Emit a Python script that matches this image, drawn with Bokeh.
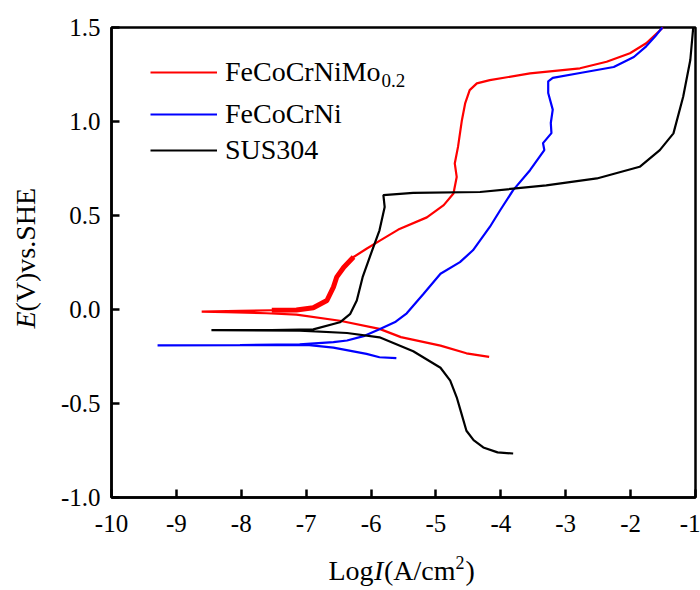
import math
from bokeh.plotting import figure
from bokeh.models import Legend, LegendItem, Label, FixedTicker, Range1d, BoxAnnotation
from bokeh.embed import file_html
from bokeh.resources import INLINE

# ---- data (log I in A/cm^2, E in V vs SHE) ----
red_cath_logi = [-4.18, -4.53, -4.93, -5.54, -5.87, -6.48, -7.15, -7.61, -8.22, -8.61]
red_cath_e    = [-0.252, -0.233, -0.192, -0.147, -0.103, -0.060, -0.027, -0.020, -0.014, -0.011]
red_anod_logi = [-8.61, -8.02, -7.53, -7.15, -6.89, -6.68, -6.58, -6.53, -6.42, -6.27, -6.07, -5.87,
                 -5.58, -5.14, -4.88, -4.73, -4.68, -4.71, -4.66, -4.60, -4.55, -4.48, -4.37, -4.17,
                 -3.55, -2.78, -2.37, -2.01, -1.76, -1.50]
red_anod_e    = [-0.011, -0.007, -0.004, -0.003, 0.009, 0.048, 0.119, 0.172, 0.225, 0.279, 0.323, 0.365,
                 0.425, 0.490, 0.555, 0.617, 0.705, 0.777, 0.865, 1.007, 1.096, 1.167, 1.203, 1.220,
                 1.256, 1.283, 1.318, 1.363, 1.416, 1.500]

blue_cath_logi = [-5.61, -5.87, -6.07, -6.58, -6.99, -8.02, -9.29]
blue_cath_e    = [-0.259, -0.254, -0.236, -0.203, -0.188, -0.190, -0.191]
blue_anod_logi = [-9.29, -8.02, -7.10, -6.58, -6.37, -6.10, -5.87, -5.62, -5.45, -5.19, -4.93, -4.63,
                  -4.43, -4.17, -4.01, -3.81, -3.55, -3.33, -3.35, -3.22, -3.23, -3.20, -3.27, -3.27,
                  -3.20, -2.78, -2.26, -1.95, -1.76, -1.60, -1.51]
blue_anod_e    = [-0.191, -0.189, -0.186, -0.174, -0.165, -0.140, -0.105, -0.065, -0.020, 0.084, 0.190,
                  0.252, 0.315, 0.439, 0.528, 0.635, 0.741, 0.848, 0.885, 0.938, 0.992, 1.063, 1.152,
                  1.214, 1.232, 1.258, 1.290, 1.343, 1.400, 1.462, 1.500]

black_cath_logi = [-3.81, -4.05, -4.27, -4.42, -4.53, -4.62, -4.68, -4.78, -4.93, -5.35, -5.87, -6.37,
                   -7.10, -8.46]
black_cath_e    = [-0.766, -0.760, -0.734, -0.695, -0.645, -0.538, -0.467, -0.378, -0.310, -0.222,
                   -0.148, -0.125, -0.112, -0.110]
black_anod_logi = [-8.46, -7.53, -6.89, -6.48, -6.32, -6.22, -6.13, -6.02, -5.87, -5.79, -5.81, -5.35,
                   -4.32, -3.30, -2.52, -1.86, -1.55, -1.34, -1.19, -1.08, -1.035]
black_anod_e    = [-0.110, -0.109, -0.106, -0.068, -0.023, 0.048, 0.172, 0.279, 0.421, 0.545, 0.608, 0.620,
                   0.625, 0.660, 0.697, 0.759, 0.848, 0.937, 1.132, 1.327, 1.500]

x_ticks = [-10, -9, -8, -7, -6, -5, -4, -3, -2, -1]
x_tick_labels = ["-10", "-9", "-8", "-7", "-6", "-5", "-4", "-3", "-2", "-1"]
y_ticks = [-1.0, -0.5, 0.0, 0.5, 1.0, 1.5]
y_tick_labels = ["-1.0", "-0.5", "0.0", "0.5", "1.0", "1.5"]

series_names = ["FeCoCrNiMo", "FeCoCrNi", "SUS304"]
series_colors = ["#ff0000", "#0000ff", "#000000"]

FONT = "Liberation Serif"
W, H = 700, 590
X0, X1 = x_ticks[0], x_ticks[-1]
Y0, Y1 = y_ticks[0], y_ticks[-1]
# pixel box of the axes area in the picture
PL, PR, PT, PB = 111, 695, 27, 497


def sx(px):
    return X0 + (px - PL) * (X1 - X0) / (PR - PL)


def sy(py):
    return Y1 - (py - PT) * (Y1 - Y0) / (PB - PT)


p = figure(width=W, height=H, output_backend="svg", toolbar_location=None,
           x_range=Range1d(sx(0), sx(W)), y_range=Range1d(sy(H), sy(0)),
           min_border=0)
p.xgrid.visible = False
p.ygrid.visible = False
p.outline_line_color = None
p.background_fill_color = "white"
p.border_fill_color = "white"

p.add_layout(BoxAnnotation(left=X0, right=X1, bottom=Y0, top=Y1, fill_alpha=0,
                           line_color="black", line_width=2.5, line_alpha=1.0, level="underlay"))

for ax, ticks, labels in ((p.xaxis[0], x_ticks, x_tick_labels), (p.yaxis[0], y_ticks, y_tick_labels)):
    ax.ticker = FixedTicker(ticks=ticks)
    ax.major_label_overrides = {t: l for t, l in zip(ticks, labels)}
    ax.bounds = (ticks[0], ticks[-1])
    ax.major_tick_in = 8
    ax.major_tick_out = 0
    ax.minor_tick_in = 0
    ax.minor_tick_out = 0
    ax.axis_line_width = 2.5
    ax.major_tick_line_width = 2.5
    ax.axis_line_color = "black"
    ax.major_tick_line_color = "black"
    ax.major_label_text_font = FONT
    ax.major_label_text_font_size = "25px"
    ax.major_label_text_color = "black"
p.xaxis.fixed_location = Y0
p.yaxis.fixed_location = X0
p.xaxis.major_label_standoff = 17
p.yaxis.major_label_standoff = 11

lw = 2.2
r_red = p.line(red_cath_logi + red_anod_logi, red_cath_e + red_anod_e, line_color=series_colors[0], line_width=lw)
# noisy part of the red anodic branch looks thicker
p.line(red_anod_logi[2:10], red_anod_e[2:10], line_color=series_colors[0], line_width=5)
r_blue = p.line(blue_cath_logi + blue_anod_logi, blue_cath_e + blue_anod_e, line_color=series_colors[1], line_width=lw)
r_black = p.line(black_cath_logi + black_anod_logi, black_cath_e + black_anod_e, line_color=series_colors[2], line_width=lw)

# legends: one per row to match uneven spacing (location relative to frame bottom-left)
rows_py = [71.7, 114.3, 150.0]
for name, r, py in zip(series_names, [r_red, r_blue, r_black], rows_py):
    lg = Legend(items=[LegendItem(label=name, renderers=[r])], location=(150, H - py - 16),
                glyph_width=67, glyph_height=32, label_height=32, label_standoff=8,
                padding=0, margin=0, spacing=0, border_line_color=None, background_fill_alpha=0,
                label_text_font=FONT, label_text_font_size="28px", label_text_color="black")
    p.add_layout(lg)


def add_text(px, py, text, size="28px", style="normal", angle=0.0):
    p.add_layout(Label(x=sx(px), y=sy(py), text=text, text_font=FONT, text_font_size=size,
                       text_font_style=style, angle=angle, text_baseline="alphabetic",
                       text_align="left", text_color="black"))


# subscript of the first legend entry
add_text(381, 80, "0.2", size="19px")

# y axis title: E(V)vs.SHE
add_text(25, 328, "E", style="italic", angle=math.pi / 2)
add_text(25, 328 - 17, "(V)vs.SHE", angle=math.pi / 2)

# x axis title: LogI(A/cm2)
add_text(328, 570, "Log")
add_text(373.5, 570, "I", style="italic")
add_text(383.5, 570, "(A/cm")
add_text(455, 562, "2", size="18px")
add_text(465, 570, ")")

open("out.html", "w").write(file_html(p, INLINE))
